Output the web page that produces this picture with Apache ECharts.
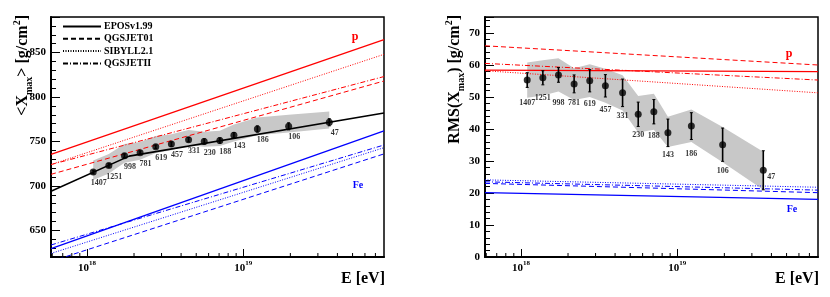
<!DOCTYPE html>
<html><head><meta charset="utf-8">
<script src="https://cdn.jsdelivr.net/npm/echarts@6/dist/echarts.min.js"></script>
<style>html,body{margin:0;padding:0;background:#fff}#c{width:830px;height:297px}</style>
</head><body><div id="c"></div>
<script>
const FONT = '"Liberation Serif", "DejaVu Serif", serif';

// ---- data ----
const lgE = [18.04,18.14,18.24,18.34,18.44,18.54,18.65,18.75,18.85,18.94,19.09,19.29,19.55];
const nEvents = [1407,1251,998,781,619,457,331,230,188,143,186,106,47];
const meanXmax = [715.5,723,734,737.4,744,747,752,750,751,757,764,767,771.6];
const meanXmaxErr = [2.0,2.0,2.0,2.0,2.0,2.5,2.5,3.0,3.0,3.0,3.5,4.0,4.0];
const meanSysUp = [13,13,13,12,12,11,11,11,11,12,13,13,12];
const meanSysLow = [9,9,8,8,7,7,6,6,6,7,7,7,7];
const rmsXmax = [55.3,56.0,56.9,54.1,55.1,53.5,51.3,44.6,45.4,38.8,40.9,35.1,27.1];
const rmsErr = [2.3,2.2,2.3,2.8,3.5,3.5,4.3,3.8,3.8,4.3,4.2,5.2,6.1];
const rmsSysUp = [5.5,5.5,5.2,4.9,5.1,5.3,5.5,5.7,5.6,5.0,5.2,5.5,5.8];
const rmsSysLow = [5.5,5.5,5.2,5.0,5.1,5.3,5.5,5.7,5.6,4.4,5.0,5.5,6.1];

const fitLgE = [17.77, 18.27, 19.9];
const fitXmax = [694, 733.5, 782];

// model predictions: order EPOSv1.99, QGSJET01, SIBYLL2.1, QGSJETII ; values at lgE ends
const modelNames = ['EPOSv1.99','QGSJET01','SIBYLL2.1','QGSJETII'];
const modelLgE = [17.77, 19.9];
const meanProton = [[735.5,864.6],[713,818],[724,848],[724,823]];
const meanIron   = [[629.4,761.8],[615,736],[624,743],[633.5,746]];
const rmsProton  = [[58.4,57.9],[66.0,60.0],[58.2,51.3],[60.5,55.3]];
const rmsIron    = [[20.1,18.0],[23.0,20.1],[24.1,21.8],[23.5,20.9]];

// axes
const xRangeLg = [17.77, 19.9];
const meanRange = [620, 890];
const rmsRange = [0, 75];
const minorTickE = [6e17,7e17,8e17,9e17,2e18,3e18,4e18,5e18,6e18,7e18,8e18,9e18,2e19,3e19,4e19,5e19,6e19,7e19];

// ---- styles (not data) ----
const dashTypes = ['solid',[5,3],[1,1.5],[5,2,1,2]];
const rmsLabelOffset = [[0,23],[0,20],[0,28],[0,19],[0,23],[0,24],[0,23],[0,21],[0,24],[0,22],[0,28],[0,26],[8,7]];

const E = l => Math.pow(10, l);
const chart = echarts.init(document.getElementById('c'), null, {renderer:'canvas'});

const grids = [
  {left:51, top:17, width:333, height:240, show:true, borderColor:'#000', borderWidth:1.5, backgroundColor:'transparent'},
  {left:485, top:17, width:333, height:240, show:true, borderColor:'#000', borderWidth:1.5, backgroundColor:'transparent'}
];

function xAxisCfg(gi){
  return {
    type:'log', logBase:10, gridIndex:gi, min:E(xRangeLg[0]), max:E(xRangeLg[1]),
    axisLine:{show:true, onZero:false, lineStyle:{color:'#000', width:2}},
    axisTick:{show:true, inside:true, length:8, lineStyle:{color:'#000', width:1}},
    minorTick:{show:false}, splitLine:{show:false},
    axisLabel:{
      showMinLabel:false, showMaxLabel:false, margin:3, color:'#000',
      formatter: v => '{b|10}{s|' + Math.round(Math.log10(v)) + '}',
      rich:{
        b:{fontFamily:FONT, fontWeight:'bold', fontSize:11, color:'#000', lineHeight:14, verticalAlign:'bottom'},
        s:{fontFamily:FONT, fontWeight:'bold', fontSize:7, color:'#000', lineHeight:14, verticalAlign:'top'}
      }
    }
  };
}
function yAxisCfg(gi, range, interval){
  const c = {
    type:'value', gridIndex:gi, min:range[0], max:range[1],
    axisLine:{show:true, onZero:false, lineStyle:{color:'#000', width:2}},
    axisTick:{show:true, inside:true, length:9, lineStyle:{color:'#000', width:1}},
    minorTick:{show:true, splitNumber:5, length:5, lineStyle:{color:'#000', width:1}},
    splitLine:{show:false}, minorSplitLine:{show:false},
    axisLabel:{showMinLabel: gi===1, showMaxLabel:false, margin:5, color:'#000', fontFamily:FONT, fontWeight:'bold', fontSize:11}
  };
  if (interval) c.interval = interval; else c.splitNumber = 5;
  return c;
}

const series = [];

function bandSeries(gi, vals, up, low){
  return {
    type:'custom', xAxisIndex:gi, yAxisIndex:gi, z:1, silent:true,
    data:[[E(lgE[0]), vals[0]]],
    renderItem:(params, api) => {
      const pts = [];
      for (let i=0;i<lgE.length;i++) pts.push(api.coord([E(lgE[i]), vals[i]+up[i]]));
      for (let i=lgE.length-1;i>=0;i--) pts.push(api.coord([E(lgE[i]), vals[i]-low[i]]));
      return {type:'polygon', shape:{points:pts}, style:{fill:'#c8c8c8', stroke:null}};
    }
  };
}
series.push(bandSeries(0, meanXmax, meanSysUp, meanSysLow));
series.push(bandSeries(1, rmsXmax, rmsSysUp, rmsSysLow));

function modelSeries(gi, arr, color, tag){
  arr.forEach((v, m) => {
    series.push({
      type:'line', name: tag + ' ' + modelNames[m], xAxisIndex:gi, yAxisIndex:gi, z:2, silent:true,
      symbol:'none', data: modelLgE.map((l,k)=>[E(l), v[k]]),
      lineStyle:{color, width: m===0 ? 1.3 : 1, type: dashTypes[m]}
    });
  });
}
modelSeries(0, meanProton, '#ff0000', 'pm');
modelSeries(0, meanIron, '#0000ff', 'fm');
modelSeries(1, rmsProton, '#ff0000', 'pr');
modelSeries(1, rmsIron, '#0000ff', 'fr');

// fit line
series.push({
  type:'line', name:'fit', xAxisIndex:0, yAxisIndex:0, z:3, silent:true, symbol:'none',
  data: fitLgE.map((l,i)=>[E(l), fitXmax[i]]),
  lineStyle:{color:'#000', width:1.6}
});

function errSeries(gi, vals, errs){
  return {
    type:'custom', xAxisIndex:gi, yAxisIndex:gi, z:4, silent:true,
    data: lgE.map((l,i)=>[E(l), vals[i], errs[i]]),
    encode:{x:0, y:1},
    renderItem:(params, api) => {
      const x = api.value(0), y = api.value(1), e = api.value(2);
      const t = api.coord([x, y+e]), b = api.coord([x, y-e]);
      return {type:'group', children:[
        {type:'line', shape:{x1:t[0],y1:t[1],x2:b[0],y2:b[1]}, style:{stroke:'#000', lineWidth:1.6}},
        {type:'line', shape:{x1:t[0]-1.5,y1:t[1],x2:t[0]+1.5,y2:t[1]}, style:{stroke:'#000', lineWidth:1}},
        {type:'line', shape:{x1:b[0]-1.5,y1:b[1],x2:b[0]+1.5,y2:b[1]}, style:{stroke:'#000', lineWidth:1}}
      ]};
    }
  };
}
series.push(errSeries(0, meanXmax, meanXmaxErr));
series.push(errSeries(1, rmsXmax, rmsErr));

const labelStyle = {fontFamily:FONT, fontWeight:'bold', fontSize:8, color:'#000'};
series.push({
  type:'scatter', xAxisIndex:0, yAxisIndex:0, z:5, silent:true, symbol:'circle', symbolSize:7,
  itemStyle:{color:'#000'},
  data: lgE.map((l,i)=>[E(l), meanXmax[i]]),
  label:Object.assign({show:true, position:'inside', offset:[5.5,11], formatter:p=>String(nEvents[p.dataIndex])}, labelStyle)
});
series.push({
  type:'scatter', xAxisIndex:1, yAxisIndex:1, z:5, silent:true, symbol:'circle', symbolSize:7,
  itemStyle:{color:'#000'},
  data: lgE.map((l,i)=>({value:[E(l), rmsXmax[i]], label:{offset:rmsLabelOffset[i]}})),
  label:Object.assign({show:true, position:'inside', formatter:p=>String(nEvents[p.dataIndex])}, labelStyle)
});

// minor ticks on log x axes
[0,1].forEach(gi => {
  series.push({
    type:'custom', xAxisIndex:gi, yAxisIndex:gi, z:6, silent:true, clip:false,
    data: minorTickE.map(e=>[e, gi===0 ? meanRange[0] : rmsRange[0]]),
    renderItem:(params, api) => {
      const p = api.coord([api.value(0), api.value(1)]);
      return {type:'line', shape:{x1:p[0], y1:p[1], x2:p[0], y2:p[1]-4}, style:{stroke:'#000', lineWidth:1}};
    }
  });
});

// legend dummy series
modelNames.forEach((n,m) => {
  series.push({type:'line', name:n, xAxisIndex:0, yAxisIndex:0, symbol:'none', showSymbol:false, data:[],
    lineStyle:{color:'#000', width:1.5, type:dashTypes[m]}, itemStyle:{color:'#000', opacity:0}});
});

const titleRich = {
  t:{fontFamily:FONT, fontWeight:'bold', fontSize:16, color:'#000', lineHeight:22, verticalAlign:'middle'},
  sub:{fontFamily:FONT, fontWeight:'bold', fontSize:10, color:'#000', lineHeight:12, verticalAlign:'bottom'},
  sup:{fontFamily:FONT, fontWeight:'bold', fontSize:10, color:'#000', lineHeight:12, verticalAlign:'top'}
};

chart.setOption({
  animation:false,
  backgroundColor:'#fff',
  grid:grids,
  xAxis:[xAxisCfg(0), xAxisCfg(1)],
  yAxis:[yAxisCfg(0, meanRange, null), yAxisCfg(1, rmsRange, 10)],
  legend:{
    left:62, top:21.5, padding:0, orient:'vertical', itemWidth:38, itemHeight:9, itemGap:2.3, selectedMode:false,
    data: modelNames, itemStyle:{opacity:0},
    textStyle:{fontFamily:FONT, fontWeight:'bold', fontSize:10, color:'#000', padding:[0,0,0,-2]}
  },
  series,
  graphic:[
    {type:'text', x:23, y:15, rotation:Math.PI/2, style:{
      text:'{t|<X}{sub|max}{t|> [g/cm}{sup|2}{t|]}', rich:titleRich, align:'right', verticalAlign:'middle'}},
    {type:'text', x:455, y:15, rotation:Math.PI/2, style:{
      text:'{t|RMS(X}{sub|max}{t|) [g/cm}{sup|2}{t|]}', rich:titleRich, align:'right', verticalAlign:'middle'}},
    {type:'text', x:385, y:279, style:{text:'E [eV]', font:'bold 16px ' + FONT, fill:'#000', align:'right', verticalAlign:'middle'}},
    {type:'text', x:819, y:279, style:{text:'E [eV]', font:'bold 16px ' + FONT, fill:'#000', align:'right', verticalAlign:'middle'}},
    {type:'text', x:355, y:37, style:{text:'p', font:'bold 12px ' + FONT, fill:'#ff0000', align:'center', verticalAlign:'middle'}},
    {type:'text', x:358, y:185, style:{text:'Fe', font:'bold 10px ' + FONT, fill:'#0000ff', align:'center', verticalAlign:'middle'}},
    {type:'text', x:789, y:54, style:{text:'p', font:'bold 12px ' + FONT, fill:'#ff0000', align:'center', verticalAlign:'middle'}},
    {type:'text', x:792, y:209, style:{text:'Fe', font:'bold 10px ' + FONT, fill:'#0000ff', align:'center', verticalAlign:'middle'}}
  ]
});
</script></body></html>
